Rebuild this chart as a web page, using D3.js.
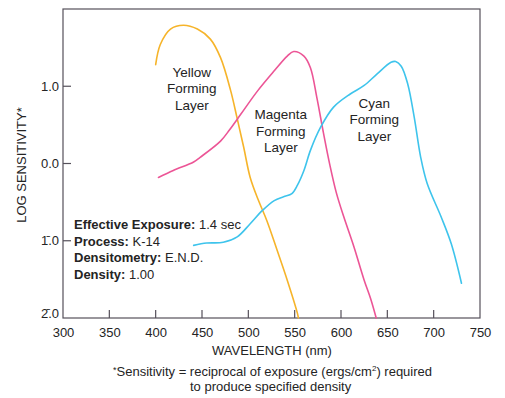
<!DOCTYPE html>
<html>
<head>
<meta charset="utf-8">
<script src="https://cdn.jsdelivr.net/npm/d3@7/dist/d3.min.js"></script>
<style>
  html, body { margin: 0; padding: 0; background: #fff; }
  svg { display: block; font-family: "Liberation Sans", Arial, Helvetica, sans-serif; }
</style>
</head>
<body>
<svg id="chart" width="505" height="398"></svg>
<script>
// Spectral sensitivity of the three dye-forming layers (wavelength nm, log sensitivity)
const yellowWl  = [400, 405, 416, 430, 445, 459, 470, 481, 488, 495, 502, 511, 520, 531, 542, 553, 554];
const yellowVal = [1.28, 1.54, 1.74, 1.79, 1.74, 1.61, 1.37, 0.94, 0.58, 0.21, -0.18, -0.48, -0.74, -1.12, -1.51, -1.94, -2.0];

const magentaWl  = [403, 419, 441, 448, 470, 480, 492, 510, 528, 542, 549, 560, 567, 574, 581, 588, 595, 603, 614, 625, 632, 638];
const magentaVal = [-0.18, -0.09, 0.02, 0.08, 0.29, 0.44, 0.64, 0.94, 1.20, 1.39, 1.45, 1.39, 1.24, 0.85, 0.40, -0.02, -0.38, -0.69, -1.08, -1.51, -1.75, -2.0];

const cyanWl  = [441, 455, 473, 488, 502, 515, 528, 538, 547, 553, 560, 567, 578, 592, 610, 625, 639, 654, 659, 665, 672, 679, 686, 693, 708, 719, 730];
const cyanVal = [-1.06, -1.03, -1.02, -0.95, -0.78, -0.61, -0.48, -0.43, -0.39, -0.28, -0.09, 0.17, 0.47, 0.73, 0.90, 1.01, 1.16, 1.31, 1.32, 1.26, 1.03, 0.60, 0.08, -0.26, -0.69, -1.04, -1.55];

const xTicks = [300, 350, 400, 450, 500, 550, 600, 650, 700, 750];
const yTicks = [-2, -1, 0, 1];
const yTickLabels = ["2\u0304.0", "1\u0304.0", "0.0", "1.0"];

const layerNames = [["Yellow", "Forming", "Layer"], ["Magenta", "Forming", "Layer"], ["Cyan", "Forming", "Layer"]];
const layerLabelAt = [[439, 1.12], [535, 0.57], [636, 0.72]];

const infoKeys   = ["Effective Exposure:", "Process:", "Densitometry:", "Density:"];
const infoValues = ["1.4 sec", "K-14", "E.N.D.", "1.00"];

const series = [
  { wl: yellowWl,  val: yellowVal,  color: "#f6b42a" },
  { wl: magentaWl, val: magentaVal, color: "#ec5596" },
  { wl: cyanWl,    val: cyanVal,    color: "#3ec4ec" }
];

const svg = d3.select("#chart");
const x = d3.scaleLinear().domain([300, 750]).range([63, 480]);
const y = d3.scaleLinear().domain([-2, 2]).range([318, 9]);
const frame = "#55505a";
const ink = "#242424";

// Plot frame
svg.append("rect")
  .attr("x", x(300)).attr("y", y(2))
  .attr("width", x(750) - x(300)).attr("height", y(-2) - y(2))
  .attr("fill", "none").attr("stroke", frame).attr("stroke-width", 1.2);

// Bottom axis with inward ticks
const xAxis = svg.append("g").attr("transform", `translate(0,${y(-2)})`)
  .call(d3.axisBottom(x).tickValues(xTicks).tickSize(0).tickPadding(10).tickFormat(d3.format("d")));
xAxis.select(".domain").remove();
xAxis.selectAll("text").attr("font-size", 13).attr("fill", ink).attr("font-family", null);
svg.append("g").selectAll("line").data(xTicks.slice(1, -1)).join("line")
  .attr("x1", d => x(d)).attr("x2", d => x(d))
  .attr("y1", y(-2)).attr("y2", y(-2) - 8)
  .attr("stroke", frame).attr("stroke-width", 1.2);

// Left axis with inward ticks
const yAxis = svg.append("g").attr("transform", `translate(${x(300)},0)`)
  .call(d3.axisLeft(y).tickValues(yTicks).tickSize(0).tickPadding(4)
    .tickFormat((d, i) => yTickLabels[i]));
yAxis.select(".domain").remove();
yAxis.selectAll("text").attr("font-size", 13).attr("fill", ink).attr("font-family", null);
yAxis.selectAll(".tick").filter(d => d === -2).select("text").attr("dy", "-0.05em");
svg.append("g").selectAll("line").data(yTicks.slice(1)).join("line")
  .attr("x1", x(300)).attr("x2", x(300) + 8)
  .attr("y1", d => y(d)).attr("y2", d => y(d))
  .attr("stroke", frame).attr("stroke-width", 1.2);

// Curves
const line = d3.line().curve(d3.curveCatmullRom.alpha(0.5));
svg.append("g").selectAll("path").data(series).join("path")
  .attr("d", s => line(s.wl.map((w, i) => [x(w), y(s.val[i])])))
  .attr("fill", "none").attr("stroke", s => s.color)
  .attr("stroke-width", 1.6).attr("stroke-linejoin", "round").attr("stroke-linecap", "round");

// Layer labels
layerNames.forEach((lines, k) => {
  const t = svg.append("text").attr("text-anchor", "middle").attr("font-size", 13.5).attr("fill", ink)
    .attr("x", x(layerLabelAt[k][0])).attr("y", y(layerLabelAt[k][1]));
  lines.forEach((s, i) => t.append("tspan").attr("x", x(layerLabelAt[k][0])).attr("dy", i === 0 ? 0 : 16.5).text(s));
});

// Exposure conditions
const info = svg.append("g").attr("font-size", 13).attr("fill", ink);
infoKeys.forEach((k, i) => {
  const t = info.append("text").attr("x", 74).attr("y", 229 + i * 16.7);
  t.append("tspan").attr("font-weight", "bold").text(k);
  t.append("tspan").text("\u00a0" + infoValues[i]);
});

// Axis titles
svg.append("text").attr("x", 272).attr("y", 355).attr("text-anchor", "middle")
  .attr("font-size", 13).attr("fill", ink).text("WAVELENGTH (nm)");
svg.append("text").attr("transform", "translate(26,165) rotate(-90)").attr("text-anchor", "middle")
  .attr("font-size", 13).attr("fill", ink).text("LOG SENSITIVITY*");

// Footnote
const note = svg.append("g").attr("font-size", 13).attr("fill", ink);
const n1 = note.append("text").attr("x", 113).attr("y", 376);
n1.append("tspan").attr("font-size", 9).attr("dy", -3).text("*");
n1.append("tspan").attr("dy", 3).text("Sensitivity = reciprocal of exposure (ergs/cm");
n1.append("tspan").attr("font-size", 8).attr("dy", -5).text("2");
n1.append("tspan").attr("dy", 5).text(") required");
note.append("text").attr("x", 190).attr("y", 391).text("to produce specified density");
</script>
</body>
</html>
